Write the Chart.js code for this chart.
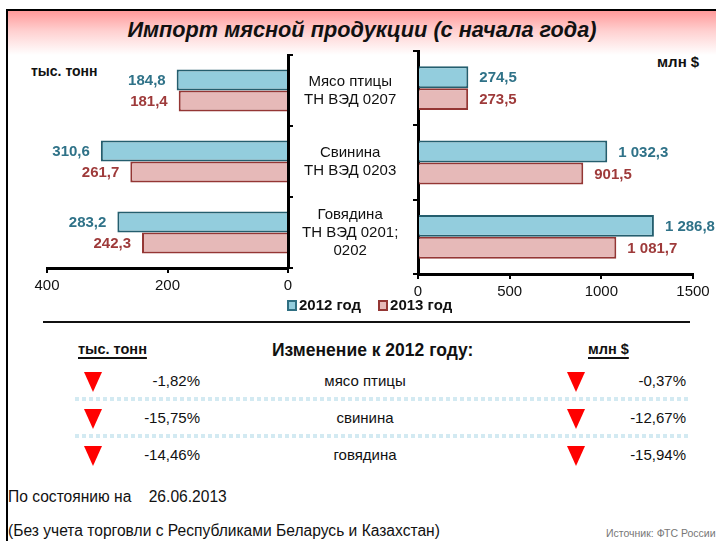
<!DOCTYPE html>
<html>
<head>
<meta charset="utf-8">
<script src="https://cdn.jsdelivr.net/npm/chart.js@4.4.1/dist/chart.umd.min.js"></script>
<style>
  body { margin: 0; width: 716px; height: 541px; position: relative; overflow: hidden; background: #fff;
         font-family: "Liberation Sans", Arial, sans-serif; color: #111; }
  .abs { position: absolute; white-space: nowrap; }
  .frame { left: 6px; top: 9px; width: 720px; height: 540px; border-left: 2px solid #000; border-top: 2px solid #000;
           background: linear-gradient(to bottom, #ff9a9a 0px, #ffd0d0 20px, #ffffff 44px, #ffffff 100%); }
  .title { left: 0; top: 17px; width: 724px; text-align: center; font-size: 21.7px; font-weight: bold; font-style: italic; }
  .unit { font-size: 14px; font-weight: bold; }
  .legend { top: 296px; left: 287px; font-size: 15px; font-weight: bold; }
  .legend span.sq { display: inline-block; width: 6px; height: 7px; border: 2px solid; vertical-align: -1px; margin-right: 2px; }
  .legend span.gap { display: inline-block; width: 17px; }
  .hline { left: 43px; top: 321px; width: 647px; height: 0; border-top: 2px solid #111; }
  .hdr { font-size: 14.5px; font-weight: bold; text-decoration: underline; text-decoration-thickness: 2px; text-underline-offset: 3px; }
  .chg { font-size: 17.5px; font-weight: bold; }
  .row { font-size: 15px; }
  .pct { text-align: right; width: 80px; }
  .name { text-align: center; width: 200px; }
  .tri { width: 0; height: 0; border-left: 9px solid transparent; border-right: 9px solid transparent; border-top: 20px solid #ff0000; }
  .dots { left: 75px; width: 615px; height: 4px;
          background: repeating-linear-gradient(to right, #d3eaf2 0, #d3eaf2 4px, transparent 4px, transparent 7px); }
  .foot { font-size: 15.6px; }
  .src { font-size: 10.5px; color: #777; }
  canvas { position: absolute; }
</style>
</head>
<body>
<div class="abs frame"></div>
<div class="abs title">Импорт мясной продукции (с начала года)</div>
<div class="abs unit" style="left:31px; top:63px;">тыс. тонн</div>
<div class="abs unit" style="left:657px; top:53px; font-size:15px;">млн $</div>

<div style="position:absolute; left:0; top:50px; width:420px; height:260px;"><canvas id="left"></canvas></div>
<div style="position:absolute; left:380px; top:45px; width:336px; height:270px;"><canvas id="right"></canvas></div>

<div class="abs legend"><span class="sq" style="background:#93cddd;border-color:#2f6f82"></span>2012 год<span class="gap"></span><span class="sq" style="background:#e6b9b8;border-color:#943634"></span>2013 год</div>
<div class="abs hline"></div>

<div class="abs hdr" style="left:78px; top:341px;">тыс. тонн</div>
<div class="abs chg" style="left:272px; top:340px;">Изменение к 2012 году:</div>
<div class="abs hdr" style="left:588px; top:341px;">млн $</div>

<div id="table"></div>

<div class="abs foot" style="left:8px; top:488px;">По состоянию на&nbsp;&nbsp;&nbsp;&nbsp;26.06.2013</div>
<div class="abs foot" style="left:8px; top:522px;">(Без учета торговли с Республиками Беларусь и Казахстан)</div>
<div class="abs src" style="left:606px; top:527px;">Источник: ФТС России</div>

<script>
// ── Data ───────────────────────────────────────────────────────────────────
const CATEGORIES = [["Мясо птицы", "ТН ВЭД 0207"], ["Свинина", "ТН ВЭД 0203"], ["Говядина", "ТН ВЭД 0201;", "0202"]];
const TONS_2012 = [184.8, 310.6, 283.2];
const TONS_2013 = [181.4, 261.7, 242.3];
const USD_2012 = [274.5, 1032.3, 1286.8];
const USD_2013 = [273.5, 901.5, 1081.7];
const TONS_TICKS = [0, 200, 400];
const USD_TICKS = [0, 500, 1000, 1500];

const CHANGE_NAMES = ["мясо птицы", "свинина", "говядина"];
const CHANGE_TONS = ["-1,82%", "-15,75%", "-14,46%"];
const CHANGE_USD = ["-0,37%", "-12,67%", "-15,94%"];

// ── Helpers ────────────────────────────────────────────────────────────────
const FONT = "'Liberation Sans', Arial, sans-serif";
const BLUE = "#93cddd", BLUE_LINE = "#245e6e", BLUE_TEXT = "#2f7288";
const PINK = "#e6b9b8", PINK_LINE = "#943634", PINK_TEXT = "#9e3a3a";

function fmt(v) {
  const [i, d] = v.toFixed(1).split(".");
  return i.replace(/\B(?=(\d{3})+(?!\d))/g, " ") + "," + d;
}

const valueLabels = {
  id: "valueLabels",
  afterDatasetsDraw(chart, args, opts) {
    const ctx = chart.ctx;
    ctx.save();
    ctx.font = "bold 15px " + FONT;
    ctx.textBaseline = "middle";
    chart.data.datasets.forEach((ds, i) => {
      chart.getDatasetMeta(i).data.forEach((bar, j) => {
        ctx.fillStyle = ds.labelColor;
        ctx.textAlign = opts.side === "left" ? "right" : "left";
        const x = opts.side === "left" ? bar.x - 11 : bar.x + 11;
        ctx.fillText(fmt(ds.data[j]), x, bar.y + 1);
      });
    });
    ctx.restore();
  }
};

function datasets(a, b) {
  return [
    { label: "2012 год", data: a, backgroundColor: BLUE, borderColor: BLUE_LINE, borderWidth: 2, labelColor: BLUE_TEXT,
      categoryPercentage: 0.59, barPercentage: 1 },
    { label: "2013 год", data: b, backgroundColor: PINK, borderColor: PINK_LINE, borderWidth: 2, labelColor: PINK_TEXT,
      categoryPercentage: 0.59, barPercentage: 1 }
  ];
}

const axisGrid = { display: true, drawOnChartArea: false, drawTicks: true, tickLength: 5, color: "#000", lineWidth: 2 };
const axisBorder = { display: true, color: "#000", width: 3 };
// keep the label overflow from pushing the plot area around
const noPad = s => { s.paddingTop = 0; s.paddingBottom = 0; s.paddingLeft = 0; s.paddingRight = 0; };

// ── Left chart (тыс. тонн) ─────────────────────────────────────────────────
new Chart(document.getElementById("left"), {
  type: "bar",
  data: { labels: CATEGORIES, datasets: datasets(TONS_2012, TONS_2013) },
  options: {
    indexAxis: "y", responsive: true, maintainAspectRatio: false, animation: false,
    layout: { padding: { left: 47, top: 5, right: 0, bottom: 0 } },
    plugins: { legend: { display: false }, tooltip: { enabled: false }, valueLabels: { side: "left" } },
    scales: {
      x: {
        reverse: true, min: 0, max: TONS_TICKS[TONS_TICKS.length - 1],
        afterBuildTicks: s => { s.ticks = TONS_TICKS.map(v => ({ value: v })); },
        afterFit: s => { s.height = 42; noPad(s); },
        grid: axisGrid, border: axisBorder,
        ticks: { color: "#111", font: { size: 15, family: FONT }, padding: 4, callback: v => String(v) }
      },
      y: {
        position: "right",
        afterFit: s => { s.width = 132; noPad(s); },
        grid: axisGrid, border: axisBorder,
        ticks: { color: "#111", font: { size: 15, family: FONT, lineHeight: 1.2 }, crossAlign: "center", padding: 9 }
      }
    }
  },
  plugins: [valueLabels]
});

// ── Right chart (млн $) ────────────────────────────────────────────────────
new Chart(document.getElementById("right"), {
  type: "bar",
  data: { labels: CATEGORIES, datasets: datasets(USD_2012, USD_2013) },
  options: {
    indexAxis: "y", responsive: true, maintainAspectRatio: false, animation: false,
    layout: { padding: { left: 28, top: 6, right: 23, bottom: 0 } },
    plugins: { legend: { display: false }, tooltip: { enabled: false }, valueLabels: { side: "right" } },
    scales: {
      x: {
        min: 0, max: USD_TICKS[USD_TICKS.length - 1],
        afterBuildTicks: s => { s.ticks = USD_TICKS.map(v => ({ value: v })); },
        afterFit: s => { s.height = 41; noPad(s); },
        grid: axisGrid, border: axisBorder,
        ticks: { color: "#111", font: { size: 15, family: FONT }, padding: 4, callback: v => String(v) }
      },
      y: {
        position: "left",
        afterFit: s => { s.width = 10; noPad(s); },
        grid: axisGrid, border: axisBorder,
        ticks: { display: false }
      }
    }
  },
  plugins: [valueLabels]
});

// ── Change table ───────────────────────────────────────────────────────────
const table = document.getElementById("table");
const ROW_Y = [372, 409, 446];
CHANGE_NAMES.forEach((name, i) => {
  const y = ROW_Y[i];
  table.insertAdjacentHTML("beforeend", `
    <div class="abs tri" style="left:84px; top:${y}px;"></div>
    <div class="abs row pct" style="left:120px; top:${y}px;">${CHANGE_TONS[i]}</div>
    <div class="abs row name" style="left:265px; top:${y}px;">${name}</div>
    <div class="abs tri" style="left:567px; top:${y}px;"></div>
    <div class="abs row pct" style="left:606px; top:${y}px;">${CHANGE_USD[i]}</div>`);
  if (i < CHANGE_NAMES.length - 1) {
    table.insertAdjacentHTML("beforeend", `<div class="abs dots" style="top:${y + 25}px;"></div>`);
  }
});
</script>
</body>
</html>
